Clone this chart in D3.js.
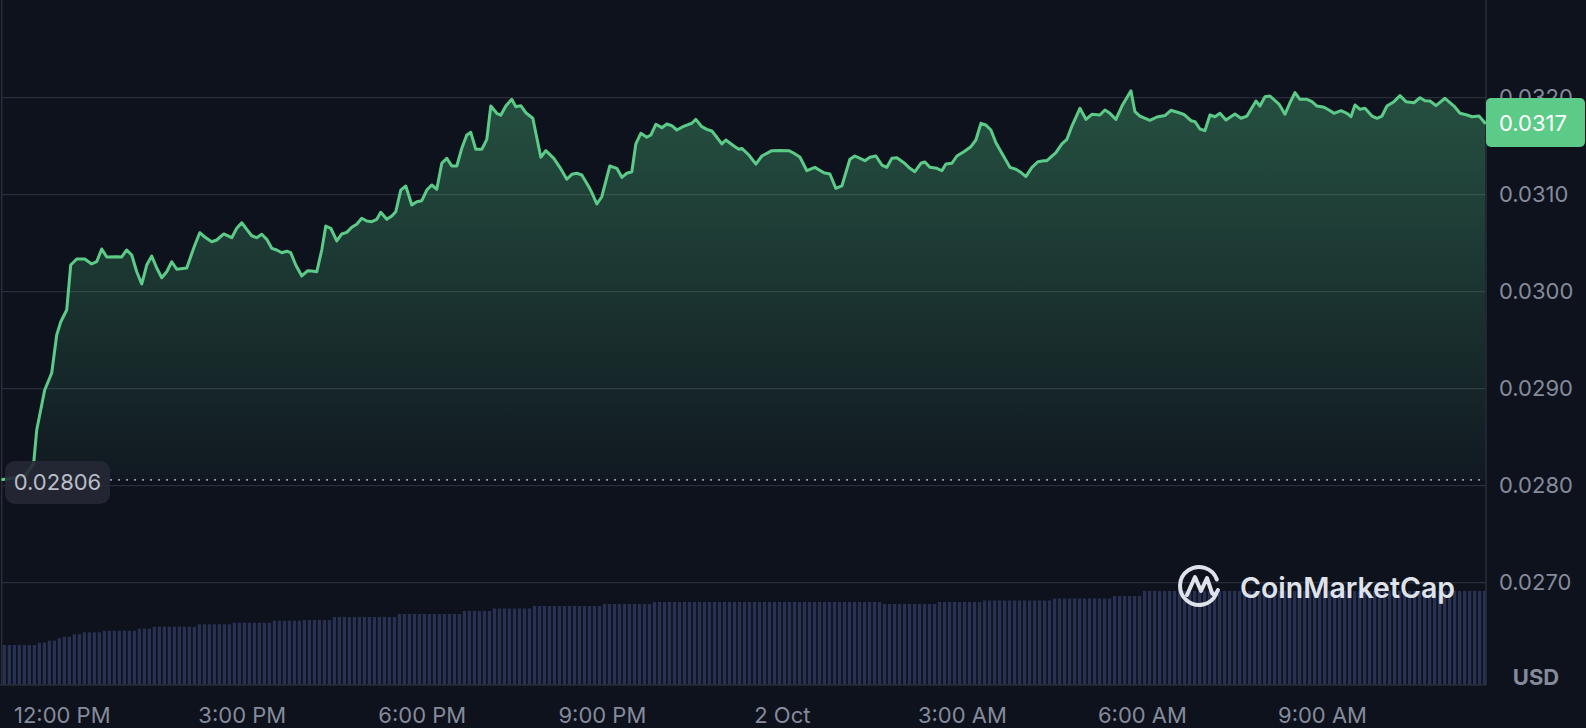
<!DOCTYPE html>
<html>
<head>
<meta charset="utf-8">
<script src="https://cdn.jsdelivr.net/npm/d3@7"></script>
<style>
  html, body { margin: 0; padding: 0; background: #0e121d; }
  svg { display: block; font-family: Inter, "Noto Sans", sans-serif; }
</style>
</head>
<body>
<svg id="chart" width="1586" height="728"></svg>
<script>
// ---------- DATA ----------
// minutes after 11:00 AM, 1 Oct
const priceMinutes = [1,13,23,29,32,35,39,43,50,55,59,65,69,75,83,90,95,100,105,115,120,125,130,135,140,145,150,155,160,165,170,175,185,192,198,203,210,215,222,230,235,240,245,250,255,260,265,270,275,280,285,289,294,300,306,310,315,320,324,329,335,340,345,350,355,360,365,370,375,379,385,390,394,399,404,410,415,420,425,430,435,440,445,450,455,460,465,469,474,480,485,489,495,499,504,510,514,519,524,531,539,544,552,558,565,570,575,580,587,590,595,600,608,615,620,625,630,634,639,645,649,654,660,665,670,675,681,687,690,694,700,705,710,715,720,724,732,737,740,747,754,760,770,778,787,792,798,805,813,822,828,834,840,848,853,863,868,874,880,885,890,895,902,908,913,919,923,928,935,940,944,950,955,962,969,974,979,984,989,994,1000,1008,1014,1018,1024,1030,1036,1042,1045,1054,1060,1065,1070,1078,1084,1090,1098,1103,1108,1114,1120,1129,1133,1138,1148,1155,1163,1169,1177,1182,1189,1193,1198,1203,1208,1213,1218,1224,1233,1239,1245,1254,1258,1263,1268,1277,1283,1288,1293,1298,1305,1310,1315,1322,1327,1332,1339,1345,1349,1353,1358,1363,1370,1375,1380,1385,1392,1398,1404,1412,1418,1423,1428,1434,1443,1452,1458,1465,1470,1477,1483];
const priceValues = [0.028064,0.028079,0.028100,0.028183,0.028234,0.028574,0.028780,0.028987,0.029162,0.029554,0.029688,0.029811,0.030275,0.030337,0.030337,0.030286,0.030309,0.030440,0.030358,0.030361,0.030358,0.030430,0.030378,0.030206,0.030079,0.030275,0.030368,0.030244,0.030144,0.030206,0.030309,0.030231,0.030244,0.030451,0.030608,0.030564,0.030515,0.030533,0.030595,0.030557,0.030654,0.030711,0.030643,0.030577,0.030557,0.030592,0.030540,0.030447,0.030430,0.030402,0.030417,0.030402,0.030275,0.030162,0.030217,0.030213,0.030206,0.030430,0.030677,0.030654,0.030523,0.030595,0.030612,0.030664,0.030695,0.030757,0.030729,0.030722,0.030746,0.030819,0.030746,0.030780,0.030825,0.031048,0.031090,0.030894,0.030928,0.030938,0.031048,0.031100,0.031056,0.031324,0.031375,0.031296,0.031296,0.031478,0.031615,0.031643,0.031468,0.031468,0.031571,0.031914,0.031839,0.031819,0.031914,0.031983,0.031907,0.031918,0.031845,0.031788,0.031386,0.031454,0.031375,0.031282,0.031159,0.031210,0.031221,0.031203,0.031082,0.031021,0.030904,0.030979,0.031296,0.031272,0.031179,0.031221,0.031237,0.031523,0.031633,0.031592,0.031615,0.031726,0.031691,0.031729,0.031711,0.031667,0.031701,0.031726,0.031736,0.031777,0.031701,0.031674,0.031657,0.031592,0.031523,0.031564,0.031502,0.031468,0.031478,0.031409,0.031316,0.031399,0.031454,0.031456,0.031454,0.031427,0.031389,0.031247,0.031282,0.031227,0.031213,0.031066,0.031090,0.031365,0.031399,0.031351,0.031386,0.031399,0.031306,0.031282,0.031375,0.031381,0.031330,0.031272,0.031237,0.031324,0.031337,0.031282,0.031272,0.031247,0.031316,0.031324,0.031399,0.031443,0.031495,0.031564,0.031736,0.031719,0.031667,0.031536,0.031427,0.031282,0.031262,0.031237,0.031186,0.031282,0.031340,0.031351,0.031351,0.031433,0.031523,0.031571,0.031708,0.031891,0.031777,0.031829,0.031822,0.031873,0.031839,0.031777,0.031914,0.032072,0.031856,0.031811,0.031767,0.031801,0.031816,0.031870,0.031845,0.031827,0.031763,0.031753,0.031677,0.031660,0.031822,0.031804,0.031839,0.031770,0.031832,0.031788,0.031811,0.031966,0.031914,0.032010,0.032017,0.031935,0.031829,0.031948,0.032052,0.031983,0.031983,0.031959,0.031914,0.031901,0.031873,0.031839,0.031866,0.031839,0.031804,0.031925,0.031880,0.031891,0.031811,0.031788,0.031811,0.031914,0.031959,0.032021,0.031959,0.031948,0.032000,0.031969,0.031966,0.031918,0.031994,0.031914,0.031839,0.031822,0.031804,0.031811,0.031740];

// volume bars, one per 5 minutes from 11:00 AM (relative units)
const volumeValues = [
4.00,4.00,4.00,4.00,4.00,4.00,4.00,4.23,4.23,4.43,4.43,4.67,4.83,4.83,5.07,5.07,5.27,5.27,5.27,5.27,
5.43,5.43,5.43,5.43,5.43,5.43,5.43,5.63,5.63,5.63,5.83,5.83,5.83,5.83,5.83,5.83,5.83,5.83,5.83,6.07,
6.07,6.07,6.07,6.07,6.07,6.07,6.23,6.23,6.23,6.23,6.23,6.23,6.23,6.23,6.43,6.43,6.43,6.43,6.43,6.43,
6.5,6.5,6.5,6.5,6.5,6.5,6.8,6.8,6.8,6.8,6.8,6.8,6.8,6.8,6.8,6.8,6.8,6.8,6.8,
7.1,7.1,7.1,7.1,7.1,7.1,7.1,7.1,7.1,7.1,7.1,7.1,7.1,7.4,7.4,7.4,7.4,7.4,7.4,
7.65,7.65,7.65,7.65,7.65,7.65,7.65,7.65,7.9,7.9,7.9,7.9,7.9,7.9,7.9,7.9,7.9,7.9,7.9,7.9,7.9,7.9,
8.1,8.1,8.1,8.1,8.1,8.1,8.1,8.1,8.1,8.1,
8.3,8.3,8.3,8.3,8.3,8.3,8.3,8.3,8.3,8.3,8.3,8.3,8.3,8.3,8.3,8.3,8.3,8.3,8.3,8.3,8.3,8.3,8.3,
8.3,8.3,8.3,8.3,8.3,8.3,8.3,8.3,8.3,8.3,8.3,8.3,8.3,8.3,8.3,8.3,8.3,8.3,8.3,8.3,8.3,8.3,8.3,
8.1,8.1,8.1,8.1,8.1,8.1,8.1,8.1,8.1,8.1,8.1,8.3,8.3,8.3,8.3,8.3,8.3,8.3,8.3,8.3,
8.45,8.45,8.45,8.45,8.45,8.45,8.45,8.45,8.45,8.45,8.45,8.45,8.45,8.45,
8.65,8.65,8.65,8.65,8.65,8.65,8.65,8.65,8.65,8.65,8.65,8.65,8.9,8.9,8.9,8.9,8.9,8.9,
9.4,9.4,9.4,9.4,9.4,9.4,9.4,9.4,9.4,9.4,9.4,9.4,9.4,9.4,9.4,9.4,9.4,9.4,9.4,9.4,9.4,9.4,9.4,
9.4,9.4,9.4,9.4,9.4,9.4,9.4,9.4,9.4,9.4,9.4,9.4,9.4,9.4,9.4,9.4,9.4,9.4,9.4,9.4,9.4,9.4,9.4,
9.4,9.4,9.4,9.4,9.4,9.4,9.4,9.4,9.4,9.4,9.4,9.4,9.4,9.4,9.4,9.4,9.4,9.4,9.4,9.4,9.4,9.4,9.4
];

const openPrice = 0.02806;
const priceTicks = [0.0270, 0.0280, 0.0290, 0.0300, 0.0310, 0.0320];
// x-axis ticks: hours after 11:00 AM 1 Oct
const timeTickHours = [1, 4, 7, 10, 13, 16, 19, 22];
const timeTickLabels = ["12:00 PM", "3:00 PM", "6:00 PM", "9:00 PM", "2 Oct", "3:00 AM", "6:00 AM", "9:00 AM"];
const currencyLabel = "USD";
const brandLabel = "CoinMarketCap";

// ---------- SETUP ----------
const svg = d3.select("#chart");
const plotLeft = 1.7, plotRight = 1486, volBottom = 685;
const start = new Date(2024, 9, 1, 11, 0);
const t = m => d3.timeMinute.offset(start, m);

const x = d3.scaleTime().domain([start, t(1484.3)]).range([plotLeft, plotRight]);
const y = d3.scaleLinear().domain([0.0270, 0.0310]).range([582.7, 194.7]);
const yv = d3.scaleLinear().domain([0, 10]).range([volBottom, volBottom - 100]);

const prices = priceMinutes.map((m, i) => ({ t: t(m), v: priceValues[i] }));
const vols = volumeValues.map((v, i) => ({ t: t(5 * i), v }));

const green = "#5ccb88";
const gridCol = "#2a2e3a";
const textCol = "#858b9b";

// defs
const defs = svg.append("defs");
const grad = defs.append("linearGradient").attr("id", "areaGrad")
  .attr("gradientUnits", "userSpaceOnUse")
  .attr("x1", 0).attr("x2", 0)
  .attr("y1", y(d3.max(priceValues))).attr("y2", y(openPrice));
grad.append("stop").attr("offset", "0%").attr("stop-color", "#4fbf80").attr("stop-opacity", 0.36);
grad.append("stop").attr("offset", "100%").attr("stop-color", "#4fbf80").attr("stop-opacity", 0.04);

// gridlines
svg.append("g").selectAll("line").data(priceTicks).join("line")
  .attr("x1", plotLeft).attr("x2", plotRight)
  .attr("y1", d => y(d)).attr("y2", d => y(d))
  .attr("stroke", gridCol).attr("stroke-width", 1.2);

// volume bars
svg.append("g").selectAll("rect").data(vols).join("rect")
  .attr("x", d => x(d.t) + 1)
  .attr("width", d => x(d3.timeMinute.offset(d.t, 5)) - x(d.t) - 1.7)
  .attr("y", d => yv(d.v))
  .attr("height", d => volBottom - yv(d.v))
  .attr("fill", "#283152");

// frame
svg.append("line").attr("x1", plotLeft).attr("x2", plotLeft).attr("y1", 0).attr("y2", volBottom)
  .attr("stroke", gridCol).attr("stroke-width", 1.5);
svg.append("line").attr("x1", plotRight).attr("x2", plotRight).attr("y1", 0).attr("y2", volBottom)
  .attr("stroke", gridCol).attr("stroke-width", 1.5);
svg.append("line").attr("x1", 0).attr("x2", plotRight).attr("y1", volBottom).attr("y2", volBottom)
  .attr("stroke", gridCol).attr("stroke-width", 1.5);

// area + line
const area = d3.area().x(d => x(d.t)).y0(y(openPrice)).y1(d => y(d.v));
svg.append("path").datum(prices).attr("d", area).attr("fill", "url(#areaGrad)");

// opening price dotted line
svg.append("line")
  .attr("x1", 110).attr("x2", plotRight)
  .attr("y1", y(openPrice)).attr("y2", y(openPrice))
  .attr("stroke", "#8e94a3").attr("stroke-width", 1.6)
  .attr("stroke-dasharray", "2,6");

const line = d3.line().x(d => x(d.t)).y(d => y(d.v));
svg.append("path").datum(prices).attr("d", line)
  .attr("fill", "none").attr("stroke", green).attr("stroke-width", 3)
  .attr("stroke-linejoin", "round").attr("stroke-linecap", "round");

// open price label
const og = svg.append("g");
og.append("rect").attr("x", 5).attr("y", y(openPrice) - 19).attr("width", 105).attr("height", 43)
  .attr("rx", 10).attr("fill", "#262935").attr("fill-opacity", 0.9);
og.append("text").attr("x", 57.5).attr("y", y(openPrice) + 2).attr("dy", "0.35em")
  .attr("text-anchor", "middle").attr("font-size", 22).attr("fill", "#b9bdc8")
  .text(d3.format(".5f")(openPrice));

// y axis
const yAxis = d3.axisRight(y).tickValues(priceTicks).tickFormat(d3.format(".4f")).tickSize(0).tickPadding(13);
const ya = svg.append("g").attr("transform", `translate(${plotRight},0)`).call(yAxis);
ya.select(".domain").remove();
ya.selectAll("text").attr("font-size", 22).attr("fill", textCol).attr("font-family", "Inter, sans-serif");

// x axis
const xAxis = d3.axisBottom(x).tickValues(timeTickHours.map(h => t(h * 60)))
  .tickFormat((d, i) => timeTickLabels[i]).tickSize(0);
const xa = svg.append("g").attr("transform", `translate(0,${volBottom})`).call(xAxis);
xa.select(".domain").remove();
xa.selectAll("text").attr("y", 30).attr("dy", "0.35em").attr("font-size", 22)
  .attr("fill", textCol).attr("font-family", "Inter, sans-serif");

// currency label
svg.append("text").attr("x", 1536).attr("y", 677).attr("dy", "0.35em").attr("text-anchor", "middle")
  .attr("font-size", 22).attr("font-weight", 700).attr("fill", textCol).text(currencyLabel);

// last price badge
const last = prices[prices.length - 1];
const by = y(last.v);
svg.append("rect").attr("x", plotRight).attr("y", by - 25).attr("width", 99).attr("height", 49)
  .attr("rx", 5).attr("fill", green);
svg.append("text").attr("x", 1499).attr("y", by).attr("dy", "0.35em").attr("font-size", 22)
  .attr("fill", "#ffffff").text(d3.format(".4f")(last.v));

// watermark logo
const lg = svg.append("g").attr("fill", "none").attr("stroke", "#dfe2e9").attr("stroke-width", 4)
  .attr("stroke-linecap", "round").attr("stroke-linejoin", "round");
const cx = 1199, cy = 586, r = 19;
const a0 = 25 * Math.PI / 180, a1 = -20 * Math.PI / 180;
lg.append("path").attr("d",
  `M${cx + r * Math.cos(a0)},${cy + r * Math.sin(a0)} A${r},${r} 0 1 1 ${cx + r * Math.cos(a1)},${cy + r * Math.sin(a1)}`);
lg.append("path").attr("d",
  `M${cx - 12},${cy + 9} L${cx - 4},${cy - 9} L${cx + 2},${cy + 5} L${cx + 8},${cy - 8} L${cx + 13},${cy + 7} Q${cx + 16},${cy + 11} ${cx + 19},${cy + 4}`);
svg.append("text").attr("x", 1240).attr("y", 598).attr("font-size", 29).attr("font-weight", 600)
  .attr("textLength", 215).attr("lengthAdjust", "spacingAndGlyphs")
  .attr("fill", "#dfe2e9").attr("font-family", "Inter, sans-serif").text(brandLabel);
</script>
</body>
</html>
